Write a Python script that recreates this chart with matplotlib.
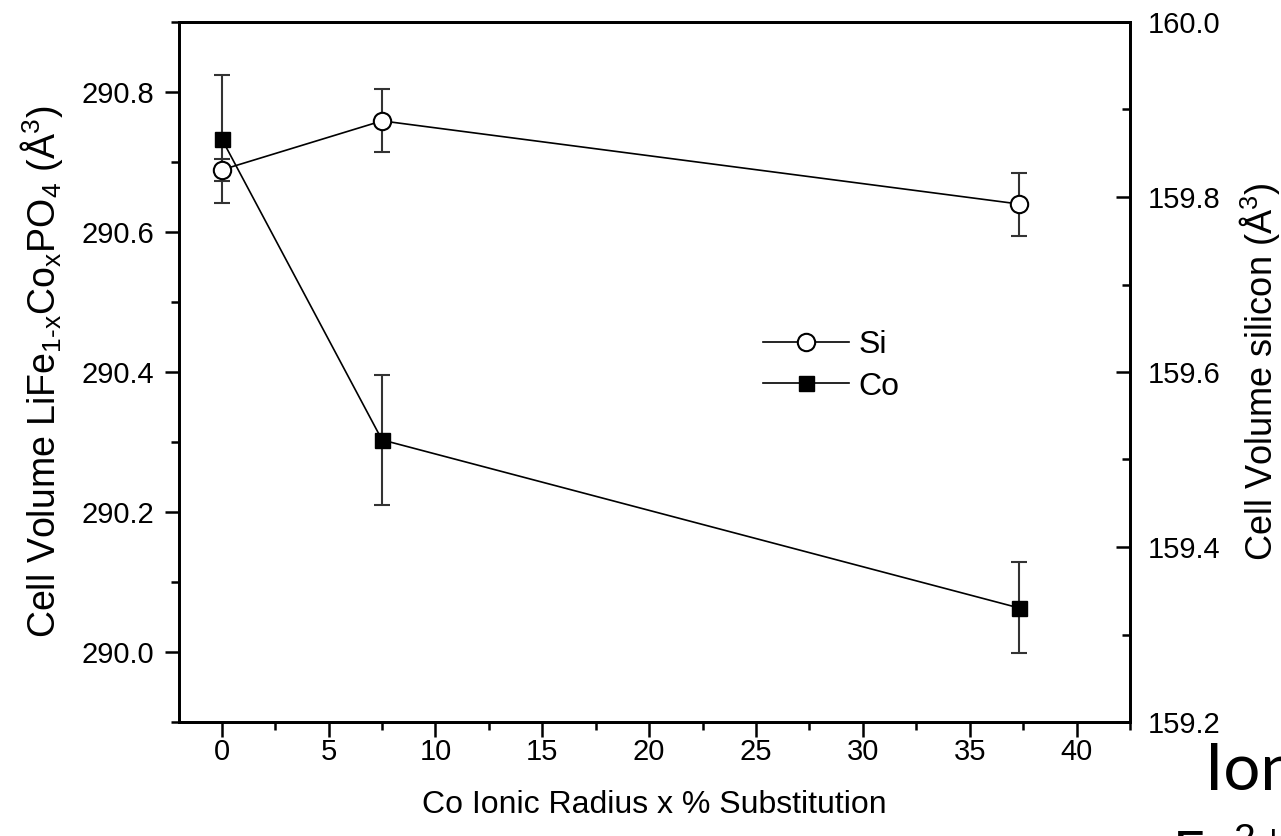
import matplotlib
matplotlib.use('Agg')
import matplotlib.pyplot as plt
from matplotlib.ticker import MultipleLocator
from matplotlib.lines import Line2D

plt.rcParams['font.family'] = ['Liberation Sans', 'DejaVu Sans']
plt.rcParams['mathtext.fontset'] = 'custom'
plt.rcParams['mathtext.rm'] = 'Liberation Sans'
plt.rcParams['mathtext.it'] = 'Liberation Sans'

# Co ionic radius x % substitution
x_sub = [0, 7.5, 37.3]

# LiFe(1-x)Co(x)PO4 cell volume (left axis)
co_vol = [290.733, 290.303, 290.063]
co_err = [0.091, 0.093, 0.065]

# silicon standard cell volume (right axis)
si_vol = [159.831, 159.887, 159.792]
si_err = [0.013, 0.036, 0.036]

fig = plt.figure(figsize=(12.81, 8.36), dpi=100)
ax = fig.add_axes([179 / 1281, 1 - 722 / 836, (1130 - 179) / 1281, 700 / 836])
ax2 = ax.twinx()

ax.errorbar(x_sub, co_vol, yerr=co_err, fmt='s-', color='black', ms=10.8,
            lw=1.2, ecolor='#333333', elinewidth=1.5, capsize=5.5, capthick=1.5,
            zorder=3)
ax2.errorbar(x_sub, si_vol, yerr=si_err, fmt='o-', color='black', mfc='white',
             mec='black', mew=1.5, ms=12.5, lw=1.2, ecolor='#333333',
             elinewidth=1.5, capsize=5.5, capthick=1.5, zorder=3)

ax.set_xlim(-2, 42.5)
ax.set_ylim(289.9, 290.9)
ax2.set_ylim(159.2, 160.0)

ax.xaxis.set_major_locator(MultipleLocator(5))
ax.xaxis.set_minor_locator(MultipleLocator(2.5))
ax.yaxis.set_major_locator(MultipleLocator(0.2))
ax.yaxis.set_minor_locator(MultipleLocator(0.1))
ax2.yaxis.set_major_locator(MultipleLocator(0.2))
ax2.yaxis.set_minor_locator(MultipleLocator(0.1))
ax.yaxis.set_major_formatter(plt.FormatStrFormatter('%.1f'))
ax2.yaxis.set_major_formatter(plt.FormatStrFormatter('%.1f'))

ax.tick_params(axis='x', which='major', direction='out', length=10.5, width=1.8,
               labelsize=21, pad=1)
ax.tick_params(axis='x', which='minor', direction='out', length=6, width=1.8)
ax.tick_params(axis='y', which='major', direction='out', length=10, width=1.8,
               labelsize=21, pad=8)
ax.tick_params(axis='y', which='minor', direction='out', length=6, width=1.8)
ax2.tick_params(axis='y', which='major', direction='in', length=10, width=1.8,
                labelsize=21, pad=13)
ax2.tick_params(axis='y', which='minor', direction='in', length=6, width=1.8)

for a in (ax, ax2):
    for s in a.spines.values():
        s.set_linewidth(2)

ax.set_xlabel('Co Ionic Radius x % Substitution', fontsize=23, labelpad=17)
ax.set_ylabel('Cell Volume LiFe$_\\mathregular{1\u2010x}$Co$_\\mathregular{x}$'
              'PO$_\\mathregular{4}$ (Å$^\\mathregular{3}$)',
              fontsize=27, labelpad=12)
ax2.set_ylabel('Cell Volume silicon (Å$^\\mathregular{3}$)', fontsize=26,
               labelpad=12)

handles = [
    Line2D([], [], color='black', lw=1.2, marker='o', ms=12.5, mfc='white',
           mec='black', mew=1.5),
    Line2D([], [], color='black', lw=1.2, marker='s', ms=10.8),
]
ax2.legend(handles, ['Si', 'Co'], loc='center left', frameon=False,
           bbox_to_anchor=(763 / 1281, 1 - 366 / 836),
           bbox_transform=fig.transFigure, fontsize=23, handlelength=2.7,
           handletextpad=0.3, labelspacing=0.35, borderpad=0, borderaxespad=0)

# leftover slide text at the bottom right corner
fig.text(1205 / 1281, 1 - 790 / 836, 'Ion', fontsize=47, family='Lato',
         va='baseline', ha='left')
fig.text(1172 / 1281, 1 - 830 / 836, 'Fe$^{2+}$', fontsize=40, family='Lato',
         va='top', ha='left')

fig.savefig('out.png', dpi=100)
